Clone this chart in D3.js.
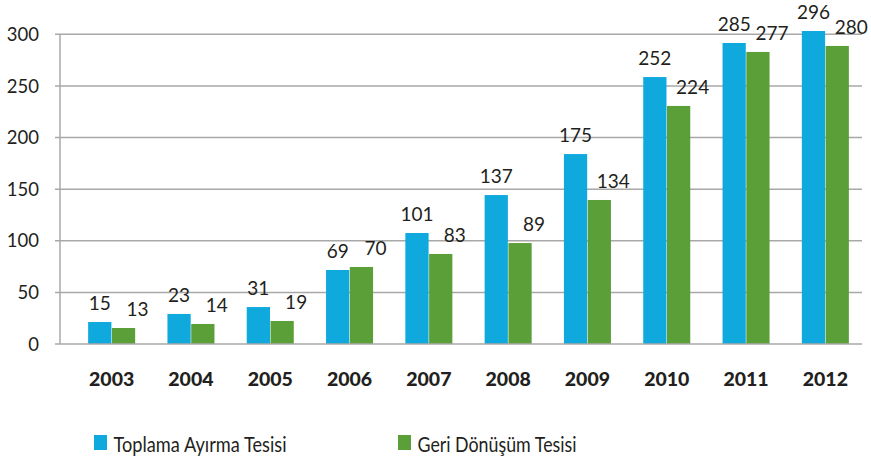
<!DOCTYPE html>
<html>
<head>
<meta charset="utf-8">
<script src="https://cdn.jsdelivr.net/npm/d3@7"></script>
<style>
  html, body { margin: 0; padding: 0; background: #ffffff; }
  svg { display: block; }
</style>
</head>
<body>
<svg id="chart" width="871" height="459"></svg>
<script>
// ---- data ----
const years = ["2003", "2004", "2005", "2006", "2007", "2008", "2009", "2010", "2011", "2012"];
const seriesNames = ["Toplama Ayırma Tesisi", "Geri Dönüşüm Tesisi"];
// bar heights as drawn in the picture
const toplamaValues = [21.3, 29.1, 35.8, 71.7, 107.5, 144.3, 184.0, 258.6, 291.6, 303.2];
const geriValues    = [15.5, 19.4, 22.3, 74.6, 87.2, 97.8, 139.5, 230.6, 282.9, 288.7];
// value labels printed above the bars
const toplamaLabels = ["15", "23", "31", "69", "101", "137", "175", "252", "285", "296"];
const geriLabels    = ["13", "14", "19", "70", "83", "89", "134", "224", "277", "280"];
const yTicks = [0, 50, 100, 150, 200, 250, 300];

// ---- layout ----
const colors = ["#10A9DE", "#5B9F38"];
const textColor = "#231F20";
const gridColor = "#A8A8A8";
const font = "Lato, 'Open Sans', sans-serif";

const svg = d3.select("#chart");
const axisLeftX = 60, gridRight = 862;

const y = d3.scaleLinear().domain([0, 300]).range([344, 34.3]);
const x = d3.scaleBand().domain(years).range([72, 865]).paddingInner(0.407).paddingOuter(0.2035);
const xs = d3.scaleBand().domain([0, 1]).range([0, x.bandwidth()]).paddingInner(0.022);

// gridlines
svg.append("g").selectAll("line").data(yTicks.filter(d => d > 0)).join("line")
  .attr("x1", axisLeftX - 5).attr("x2", gridRight)
  .attr("y1", d => y(d)).attr("y2", d => y(d))
  .attr("stroke", gridColor).attr("stroke-width", 1.5);

// bars
const series = [toplamaValues, geriValues];
const labels = [toplamaLabels, geriLabels];
const labelDx = [0, 14];
series.forEach((vals, si) => {
  svg.append("g").selectAll("rect").data(vals).join("rect")
    .attr("x", (d, i) => x(years[i]) + xs(si))
    .attr("width", xs.bandwidth())
    .attr("y", d => y(d))
    .attr("height", d => y(0) - y(d))
    .attr("fill", colors[si]);
});

// axes lines
svg.append("line").attr("x1", axisLeftX).attr("x2", axisLeftX)
  .attr("y1", y(300)).attr("y2", y(0)).attr("stroke", gridColor).attr("stroke-width", 1.5);
svg.append("line").attr("x1", axisLeftX - 5).attr("x2", gridRight)
  .attr("y1", y(0)).attr("y2", y(0)).attr("stroke", gridColor).attr("stroke-width", 1.5);

// y tick labels
svg.append("g").selectAll("text").data(yTicks).join("text")
  .attr("x", 39).attr("y", d => y(d)).attr("dy", "0.36em")
  .attr("text-anchor", "end")
  .attr("font-family", font).attr("font-size", 18.5).attr("fill", textColor)
  .text(d => d);

// x labels
svg.append("g").selectAll("text").data(years).join("text")
  .attr("x", d => x(d) + x.bandwidth() / 2).attr("y", 386)
  .attr("text-anchor", "middle")
  .attr("font-family", font).attr("font-weight", 900).attr("font-size", 19.5).attr("fill", textColor)
  .text(d => d);

// value labels
series.forEach((vals, si) => {
  svg.append("g").selectAll("text").data(vals).join("text")
    .attr("x", (d, i) => x(years[i]) + xs(si) + xs.bandwidth() / 2 + labelDx[si])
    .attr("y", d => y(d) - 12)
    .attr("text-anchor", "middle")
    .attr("font-family", font).attr("font-size", 19).attr("fill", textColor)
    .text((d, i) => labels[si][i]);
});

// legend
const legendX = [94, 398];
const legendW = [173, 159];
seriesNames.forEach((name, si) => {
  const g = svg.append("g").attr("transform", `translate(${legendX[si]},435)`);
  g.append("rect").attr("width", 13).attr("height", 15).attr("fill", colors[si]);
  g.append("text").attr("x", 19.5).attr("y", 16.7)
    .attr("font-family", font).attr("font-size", 20.5).attr("fill", textColor)
    .attr("textLength", legendW[si]).attr("lengthAdjust", "spacingAndGlyphs")
    .text(name);
});
</script>
</body>
</html>
